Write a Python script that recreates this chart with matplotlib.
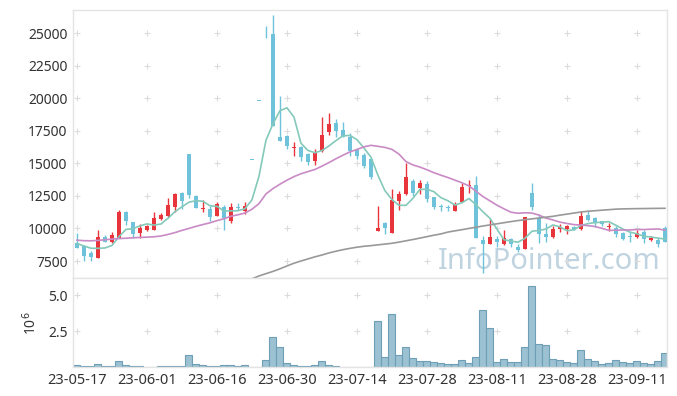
import numpy as np
import pandas as pd
import matplotlib
matplotlib.use("Agg")
import matplotlib.pyplot as plt


# Data (one row per trading day 23-05-17 .. 23-09-15)

opens = [8860, 8680, 8140, 7750, 9340, 8960, 9290, 11260, 10470, 9680,
         9880, 9880, 10720, 10980, 11670, 12720, 15740, 12490, 11520, 11490,
         10980, 11620, 10600, 11650, 11340, 15250, 19800, 25550, 24900, 17020,
         17100, 16200, 16280, 15740, 15200, 15950, 17380, 18070, 17560, 17040,
         16020, 15640, 15330, 9830, 10400, 9680, 12130, 12670, 13640, 13080,
         13390, 12390, 11700, 11620, 11360, 12050, 13250, 13330, 9110, 8830,
         9190, 8800, 9170, 8580, 8400, 12720, 10830, 9570, 9320, 9980,
         9930, 10130, 9930, 11030, 10780, 10570, 10100, 10060, 9680, 9400,
         9320, 9700, 9110, 9110, 10010]
highs = [9630, 8700, 8270, 9880, 9470, 9700, 11420, 11360, 10530, 10320,
         10300, 11290, 11160, 12310, 12750, 12800, 15740, 12550, 12180, 11720,
         12000, 11770, 11980, 11980, 12000, 15250, 19800, 25550, 26400, 20170,
         17200, 16610, 16350, 15800, 16100, 18550, 18840, 18380, 18190, 17300,
         16200, 15800, 15400, 11720, 10500, 13000, 12900, 15000, 13800, 13700,
         13670, 12450, 11880, 11800, 12000, 13470, 13720, 14050, 9420, 10700,
         9420, 9880, 9250, 8800, 10860, 13470, 11100, 10400, 10210, 10340,
         10300, 10200, 11340, 11340, 10850, 10600, 10400, 10200, 9700, 9750,
         9880, 9880, 9400, 9250, 10200]
lows = [8500, 7500, 7500, 7750, 8960, 8850, 9290, 10240, 9290, 9290,
        9800, 9880, 10650, 10900, 11290, 11470, 12310, 11590, 11290, 10570,
        10980, 9880, 10400, 11420, 11100, 15250, 19800, 24600, 17900, 16700,
        16080, 15560, 15200, 14870, 14840, 15900, 17170, 17040, 16990, 15560,
        15330, 14620, 13800, 9830, 9550, 9680, 11420, 12600, 12500, 12640,
        12000, 11470, 11340, 11300, 11300, 12000, 12740, 9290, 6600, 8800,
        8550, 8750, 8600, 8200, 8400, 11420, 8880, 8980, 9250, 9750,
        9570, 9850, 9850, 10600, 10130, 10200, 9830, 9370, 9150, 8980,
        9300, 8860, 9000, 8550, 8980]
closes = [8520, 7900, 7790, 9340, 8960, 9470, 11260, 10600, 9600, 10060,
          10210, 10800, 11030, 11780, 12620, 12080, 12570, 11600, 11560, 10900,
          11850, 10780, 11650, 11600, 11700, 15250, 19800, 25500, 17900, 16740,
          16350, 16250, 15460, 15120, 15870, 17200, 18020, 17500, 16990, 15970,
          15590, 14820, 13970, 10030, 10060, 12180, 12640, 13950, 12740, 13470,
          12260, 11670, 11650, 11580, 11800, 13150, 13300, 9290, 8830, 9320,
          8980, 9240, 8790, 8370, 10860, 11670, 9550, 9320, 9930, 10130,
          10190, 9900, 10980, 10650, 10520, 10320, 10150, 9550, 9220, 9350,
          9680, 9170, 9290, 8800, 8980]
volumes = [150000, 80000, 80000, 220000, 80000, 80000, 430000, 150000, 80000, 80000,
           60000, 60000, 70000, 70000, 70000, 70000, 850000, 220000, 150000, 80000,
           80000, 150000, 150000, 80000, 150000, 40000, 40000, 500000, 2100000, 1400000,
           300000, 150000, 80000, 80000, 150000, 430000, 150000, 80000, 50000, 50000,
           50000, 50000, 50000, 3200000, 700000, 3700000, 850000, 1400000, 640000, 430000,
           430000, 360000, 290000, 220000, 220000, 500000, 290000, 700000, 3970000, 2720000,
           360000, 570000, 360000, 360000, 1400000, 5640000, 1610000, 1540000, 570000, 500000,
           360000, 290000, 1190000, 570000, 430000, 220000, 290000, 500000, 360000, 290000,
           430000, 290000, 220000, 430000, 990000]

# moving averages whose start depends on days before the window
ma5_head = [8850, 8650, 8480, 8470]
ma20_head = [9100, 9060, 9050, 9080, 9130, 9180, 9220, 9250, 9280, 9310,
             9330, 9360, 9420, 9540, 9680, 9850, 10000, 10160, 10300]
ma60 = [np.nan] * 25 + [
    6130, 6350, 6530, 6700, 6900, 7120, 7330, 7500, 7660, 7820,
    7960, 8120, 8250, 8370, 8470, 8560, 8630, 8680, 8740, 8800,
    8860, 8950, 9050, 9150, 9260, 9370, 9480, 9580, 9720, 9815,
    9905, 10000, 10090, 10188, 10270, 10355, 10440, 10525, 10605, 10670,
    10735, 10800, 10865, 10930, 11020, 11100, 11180, 11260, 11320, 11360,
    11400, 11440, 11480, 11500, 11510, 11520, 11525, 11535, 11540, 11545]

tick_labels = ["23-05-17", "23-06-01", "23-06-16", "23-06-30", "23-07-14",
               "23-07-28", "23-08-11", "23-08-28", "23-09-11"]
price_ticks = [7500, 10000, 12500, 15000, 17500, 20000, 22500, 25000]
vol_ticks = [2.5, 5.0]


# Derived series

df = pd.DataFrame({"open": opens, "high": highs, "low": lows,
                   "close": closes, "volume": volumes})
idx = np.arange(len(df))

ma5 = df["close"].rolling(5).mean()
ma5.iloc[:len(ma5_head)] = ma5_head
ma20 = df["close"].rolling(20).mean()
ma20.iloc[:len(ma20_head)] = ma20_head

UP = "#e8343b"
DOWN = "#6ec3da"
GRID = "#dcdcdc"
SPINE = "#e4e4e4"
TEXT = "#333333"

plt.rcParams["font.family"] = ["Noto Sans", "DejaVu Sans"]

fig = plt.figure(figsize=(6.77, 3.96), dpi=100)
ax = fig.add_axes([0.1078, 0.298, 0.8774, 0.6767])
axv = fig.add_axes([0.1078, 0.072, 0.8774, 0.226], sharex=ax)

# Candles

up = df["close"] > df["open"]
colors = np.where(up, UP, DOWN)
body_low = np.minimum(df["open"], df["close"])
body_h = np.maximum((df["close"] - df["open"]).abs(), 70)

ax.vlines(idx, df["low"], df["high"], colors=colors, linewidth=1.0, zorder=2)
ax.bar(idx, body_h, bottom=body_low, width=0.7, color=colors,
       linewidth=0, zorder=3)

# Moving averages

ax.plot(idx, ma5, color="#84c9ba", linewidth=1.2, zorder=4)
ax.plot(idx, ma20, color="#c98ac5", linewidth=1.2, zorder=4)
ax.plot(idx, ma60, color="#999999", linewidth=1.2, zorder=4)

ax.text(0.99, 0.035, "InfoPointer.com", transform=ax.transAxes,
        ha="right", va="baseline", fontsize=21, color="#bfd4e0", zorder=1)

# Volume

axv.bar(idx, df["volume"] / 1e6, width=1.0, color="#9bc1d2",
        edgecolor="#6f9fb6", linewidth=0.8, zorder=2)

# Axes styling

xt = np.arange(0, len(df), 10)[:len(tick_labels)]

ax.set_xlim(-0.57, 84.29)
ax.set_ylim(6196, 26765)
axv.set_ylim(0, 6.2)

ax.set_yticks(price_ticks)
ax.set_yticklabels([str(v) for v in price_ticks])
axv.set_yticks(vol_ticks)
axv.set_yticklabels(["2.5", "5.0"])
axv.set_xticks(xt)
axv.set_xticklabels(tick_labels)
ax.tick_params(axis="x", labelbottom=False)

for a in (ax, axv):
    a.tick_params(length=0, labelsize=10, colors=TEXT, pad=4)
    for s in a.spines.values():
        s.set_color(SPINE)
        s.set_linewidth(1.0)
axv.tick_params(axis="x", labelsize=10.5)

gx, gy = np.meshgrid(xt, price_ticks)
ax.plot(gx.ravel(), gy.ravel(), linestyle="none", marker="+",
        markersize=4, markeredgewidth=0.8, color=GRID, zorder=1)
gx, gy = np.meshgrid(xt, vol_ticks)
axv.plot(gx.ravel(), gy.ravel(), linestyle="none", marker="+",
         markersize=4, markeredgewidth=0.8, color=GRID, zorder=1)

axv.set_ylabel("10$^6$", fontsize=10, color=TEXT)
axv.yaxis.set_label_coords(-0.055, 0.5)

fig.savefig("out.png", dpi=100)
